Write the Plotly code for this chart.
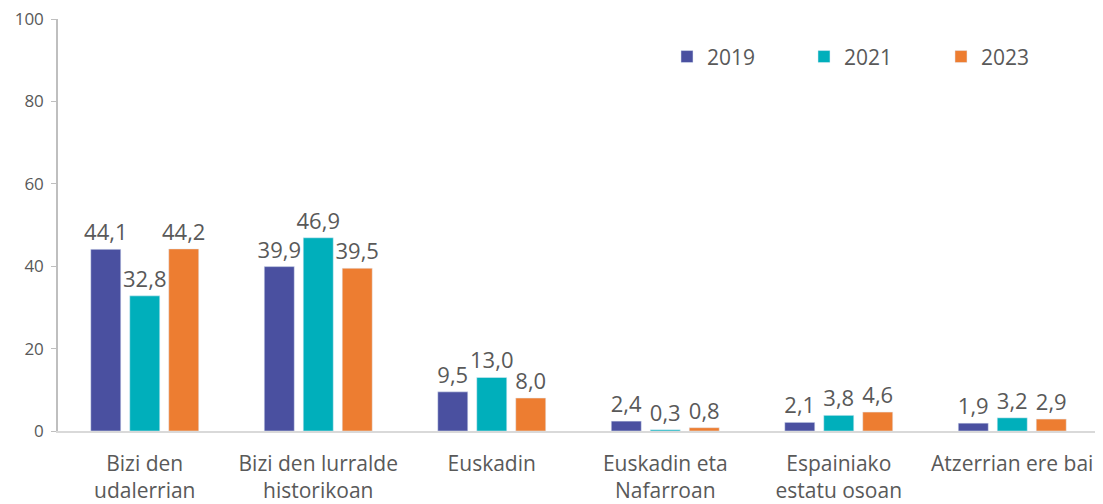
import plotly.graph_objects as go

categories = ["Bizi den<br>udalerrian", "Bizi den lurralde<br>historikoan", "Euskadin",
              "Euskadin eta<br>Nafarroan", "Espainiako<br>estatu osoan", "Atzerrian ere bai"]
years = ["2019", "2021", "2023"]
v2019 = [44.1, 39.9, 9.5, 2.4, 2.1, 1.9]
v2021 = [32.8, 46.9, 13.0, 0.3, 3.8, 3.2]
v2023 = [44.2, 39.5, 8.0, 0.8, 4.6, 2.9]
colors = ["#4A50A0", "#00AFBB", "#ED7D31"]

fig = go.Figure()
for name, vals, col in zip(years, [v2019, v2021, v2023], colors):
    fig.add_trace(go.Bar(
        x=categories, y=vals, name=name, marker_color=col,
        texttemplate="%{y:.1f}",
        textposition="outside", cliponaxis=False,
        constraintext="none",
        textfont=dict(size=22, color="#595959"),
    ))

font = "Open Sans, Liberation Sans, sans-serif"
fig.update_layout(
    width=1095, height=496,
    margin=dict(l=50, r=4, t=11, b=73, autoexpand=False),
    paper_bgcolor="white", plot_bgcolor="white",
    separators=", ",
    barmode="group", bargap=0.326, bargroupgap=0.23,
    font=dict(family=font, color="#595959"),
    legend=dict(orientation="h", x=0.585, y=0.908, xanchor="left", yanchor="middle",
                font=dict(size=21, color="#595959"), itemwidth=30,
                traceorder="normal", entrywidth=92),
    xaxis=dict(showline=True, linecolor="#D9D9D9", linewidth=1.5, ticks="",
               ticklabelstandoff=13,
               tickfont=dict(size=21, color="#595959")),
    yaxis=dict(range=[0, 100], dtick=20, showgrid=False, zeroline=False,
               showline=True, linecolor="#BFBFBF", linewidth=1.5,
               ticks="outside", ticklen=5, tickcolor="#BFBFBF",
               ticklabelstandoff=4, ticklabeloverflow="allow",
               tickfont=dict(size=17, color="#595959")),
)
fig.write_html("out.html")
